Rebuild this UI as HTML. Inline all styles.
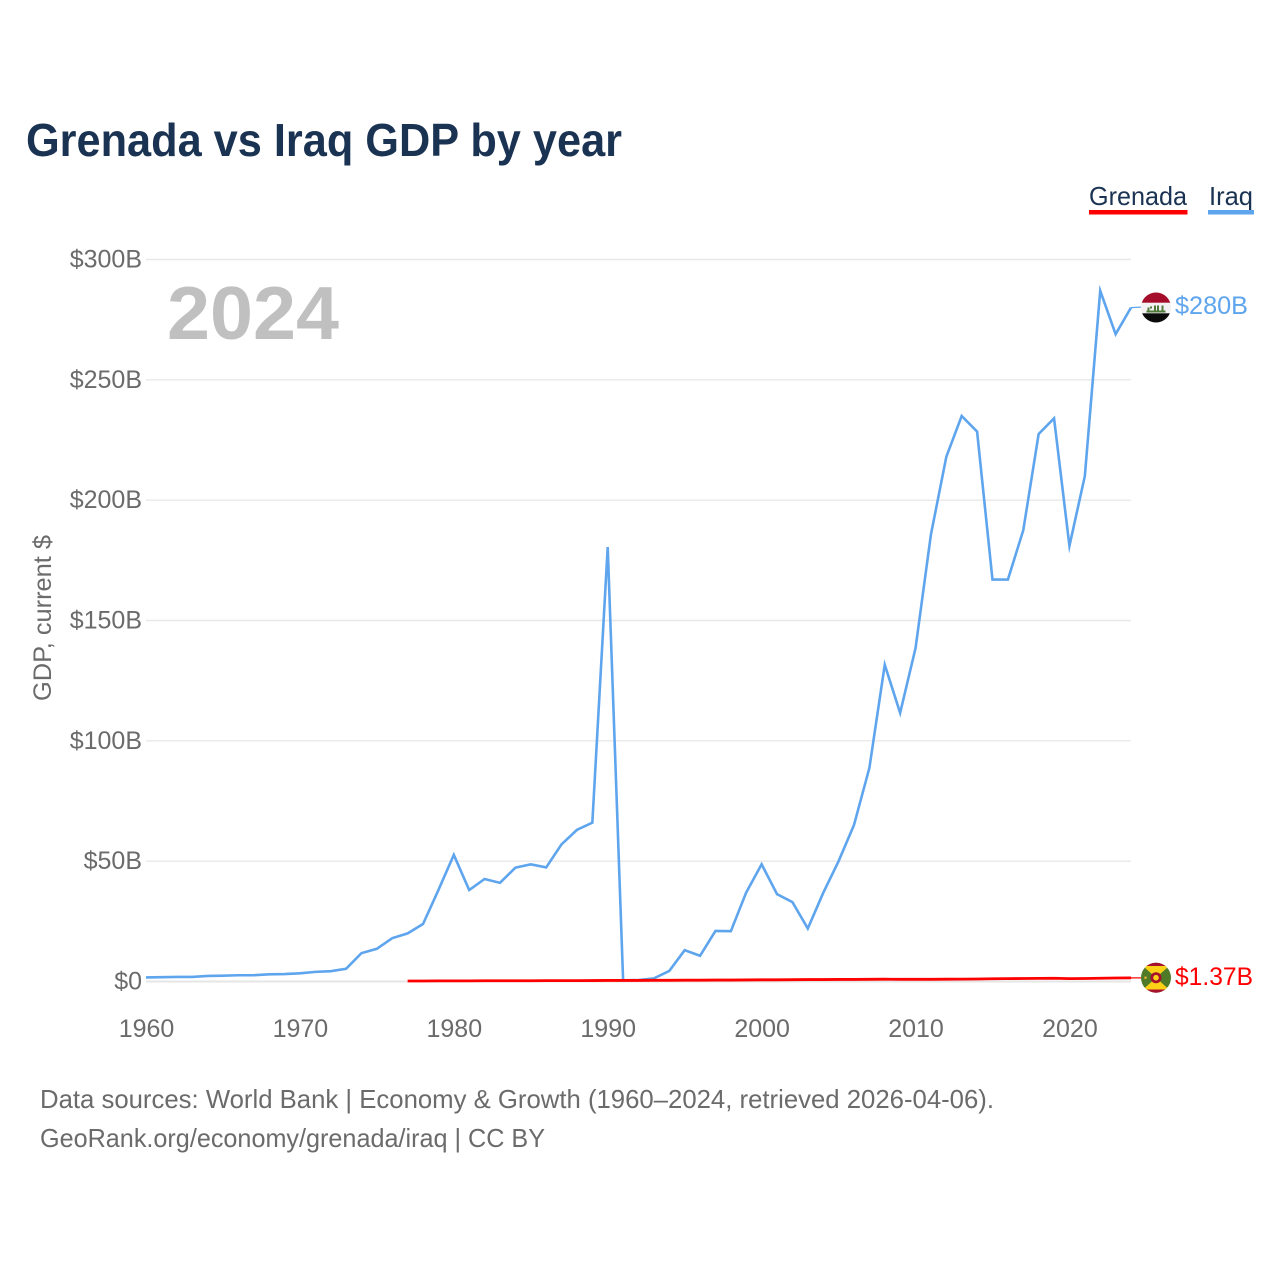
<!DOCTYPE html>
<html lang="en">
<head>
<meta charset="utf-8">
<title>Grenada vs Iraq GDP by year</title>
<style>
html,body{margin:0;padding:0;background:#fff;}
svg{display:block;font-family:"Liberation Sans",sans-serif;}
</style>
</head>
<body>
<svg id="chart" width="1280" height="1280" viewBox="0 0 1280 1280" xmlns="http://www.w3.org/2000/svg">
  <defs>
    <clipPath id="flag-clip-iraq"><circle cx="1156" cy="307.5" r="15"/></clipPath>
    <clipPath id="flag-clip-grenada"><circle cx="1156" cy="977.7" r="15"/></clipPath>
  </defs>
  <text x="26" y="156" font-size="46" font-weight="700" fill="#1a3352" textLength="596" lengthAdjust="spacingAndGlyphs">Grenada vs Iraq GDP by year</text>

  <g>
    <text x="1089" y="205" font-size="26" fill="#1a3352" textLength="98" lengthAdjust="spacingAndGlyphs">Grenada</text>
    <rect x="1089" y="210" width="98.5" height="4.5" fill="#ff0000"/>
  </g>
  <g>
    <text x="1209" y="205" font-size="26" fill="#1a3352" textLength="44" lengthAdjust="spacingAndGlyphs">Iraq</text>
    <rect x="1208" y="210" width="46" height="4.5" fill="#5ea5ee"/>
  </g>

  <g id="grid"></g>
  <g id="y-labels"></g>
  <g id="x-labels"></g>

  <text transform="translate(51 618) rotate(-90)" text-anchor="middle" font-size="25" fill="#6b6b6b" textLength="166" lengthAdjust="spacingAndGlyphs">GDP, current $</text>
  <text x="167" y="339" font-size="75" font-weight="700" fill="#c0c0c0" textLength="172" lengthAdjust="spacingAndGlyphs">2024</text>

  <g id="series"></g>

  <g clip-path="url(#flag-clip-iraq)">
    <rect x="1141" y="292" width="30" height="11" fill="#a50e2a"/>
    <rect x="1141" y="302.7" width="30" height="10.6" fill="#f2f2f2"/>
    <rect x="1141" y="313.3" width="30" height="10" fill="#0b0b0b"/>
    <path d="M1146.500 311.500h19M1148.500 311.500v-4M1150 307.500h2M1155 311.500v-6M1158 311.500v-6M1162.500 311.500v-6" stroke="#4f7a3a" stroke-width="2" fill="none"/>
  </g>
  <g clip-path="url(#flag-clip-grenada)">
    <rect x="1141" y="962" width="30" height="31" fill="#4f7a28"/>
    <rect x="1141" y="962" width="30" height="4" fill="#a8112e"/>
    <rect x="1141" y="989.500" width="30" height="4" fill="#a8112e"/>
    <polygon points="1143,966 1169,966 1156,977.700" fill="#fcd116"/>
    <polygon points="1143,989.500 1169,989.500 1156,977.700" fill="#fcd116"/>
    <circle cx="1156" cy="977.700" r="5.500" fill="#a8112e"/>
    <circle cx="1156" cy="977.700" r="2.800" fill="#fcd116"/>
    <circle cx="1145.500" cy="977.700" r="1.300" fill="#e0b030"/>
  </g>

  <text id="label-iraq" x="1175" y="314" font-size="25" fill="#5ea5ee" textLength="73" lengthAdjust="spacingAndGlyphs">$280B</text>
  <text id="label-grenada" x="1175" y="985" font-size="25" fill="#ff0000" textLength="78" lengthAdjust="spacingAndGlyphs">$1.37B</text>

  <text x="40" y="1108" font-size="26" fill="#6b6b6b" textLength="954" lengthAdjust="spacingAndGlyphs">Data sources: World Bank | Economy &amp; Growth (1960–2024, retrieved 2026-04-06).</text>
  <text x="40" y="1147" font-size="26" fill="#6b6b6b" textLength="505" lengthAdjust="spacingAndGlyphs">GeoRank.org/economy/grenada/iraq | CC BY</text>
</svg>
<script>
const iraqStartYear = 1960;
const iraqGdp = [1.7,1.8,1.9,1.9,2.3,2.4,2.6,2.6,3.0,3.1,3.4,4.0,4.3,5.3,11.8,13.6,18,20,23.9,38,52.6,38,42.6,41,47.3,48.7,47.4,57,63,66,180.5,0.5,0.6,1.3,4.4,13,10.7,21,20.9,37,48.7,36.3,33,22,36.8,50,65,88.7,131.6,111.6,138.5,185.7,218,235,228.5,167,167,187.5,227.5,234,181,210,287,269,280];
const grenadaStartYear = 1977;
const grenadaGdp = [0.2,0.2,0.25,0.25,0.25,0.3,0.3,0.3,0.3,0.35,0.35,0.35,0.4,0.45,0.45,0.45,0.5,0.5,0.55,0.55,0.6,0.6,0.65,0.7,0.7,0.75,0.8,0.8,0.85,0.85,0.9,0.95,0.9,0.9,0.9,0.95,1.0,1.05,1.15,1.2,1.25,1.3,1.35,1.2,1.25,1.35,1.45,1.5];
const yTickValues = [0,50,100,150,200,250,300];
const xTickYears = [1960,1970,1980,1990,2000,2010,2020];

const NS = 'http://www.w3.org/2000/svg';
const xScale = function (year) { return 146 + (year - 1960) * (1131 - 146) / 64; };
const yScale = function (value) { return 981.5 - value * (981.5 - 259.5) / 300; };

function make(tag, parent, attrs) {
  const el = document.createElementNS(NS, tag);
  Object.keys(attrs).forEach(function (k) { el.setAttribute(k, attrs[k]); });
  parent.appendChild(el);
  return el;
}

const gridGroup = document.getElementById('grid');
const yLabelGroup = document.getElementById('y-labels');
yTickValues.forEach(function (v) {
  const line = make('line', gridGroup, {x1: 146, x2: 1131, y1: yScale(v), y2: yScale(v), stroke: v === 0 ? '#e6e6e6' : '#e8e8e8', 'stroke-width': v === 0 ? 2 : 1.4});
  
  
  const t = make('text', yLabelGroup, {x: 142, y: yScale(v) + 8, 'text-anchor': 'end', 'font-size': 25, fill: '#6b6b6b'});
  
  
  t.textContent = v === 0 ? '$0' : '$' + v + 'B';
});

const xLabelGroup = document.getElementById('x-labels');
xTickYears.forEach(function (year) {
  const t = make('text', xLabelGroup, {x: xScale(year) + 0.5, y: 1037, 'text-anchor': 'middle', 'font-size': 25, fill: '#6b6b6b'});
  
  
  t.textContent = String(year);
});

function linePoints(values, startYear) {
  return values.map(function (v, i) { return xScale(startYear + i).toFixed(2) + ',' + yScale(v).toFixed(2); }).join(' ');
}

const seriesGroup = document.getElementById('series');
const iraqLine = make('polyline', seriesGroup, {points: linePoints(iraqGdp, iraqStartYear), fill: 'none', stroke: '#5ea5ee', 'stroke-width': 2.6, 'stroke-linejoin': 'miter', 'stroke-miterlimit': 10});


const grenadaLine = make('polyline', seriesGroup, {points: linePoints(grenadaGdp, grenadaStartYear), fill: 'none', stroke: '#ff0000', 'stroke-width': 2.8});



const iraqLast = iraqGdp[iraqGdp.length - 1];
const grenadaLast = grenadaGdp[grenadaGdp.length - 1];
const iraqConnector = make('line', seriesGroup, {x1: 1131, x2: 1141, y1: yScale(iraqLast), y2: yScale(iraqLast) - 0.5, stroke: '#5ea5ee', 'stroke-width': 1.2});


const grenadaConnector = make('line', seriesGroup, {x1: 1131, x2: 1141, y1: yScale(grenadaLast), y2: yScale(grenadaLast), stroke: '#ff0000', 'stroke-width': 1.2});


</script>
</body>
</html>
